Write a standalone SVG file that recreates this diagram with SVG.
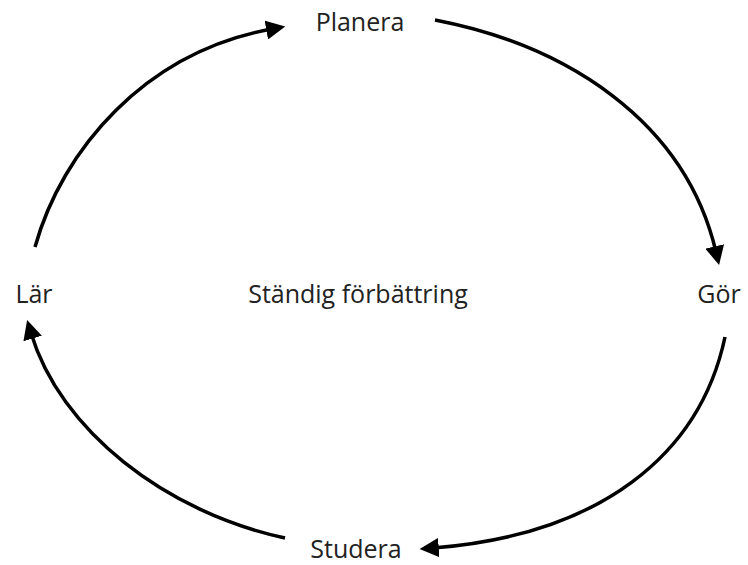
<svg xmlns="http://www.w3.org/2000/svg" width="748" height="565" viewBox="0 0 748 565">
<style>
.lbl{font-family:"Open Sans","Noto Sans",sans-serif;font-size:25px;fill:#222}
.arc{fill:none;stroke:#000;stroke-width:3.5;marker-end:url(#ah)}
</style>
<defs>
<marker id="ah" viewBox="0 0 10 10" refX="3" refY="5" markerWidth="5.5" markerHeight="5.5" orient="auto" markerUnits="strokeWidth">
<path d="M0,0 L10,5 L0,10 z" fill="#000"/>
</marker>
</defs>
<rect width="748" height="565" fill="#fff"/>
<g id="connectors">
<path class="arc" d="M35,247 C 62,150 145,52 272,29"/>
<path class="arc" d="M435,20 C 565,45 685,120 716,252"/>
<path class="arc" d="M725,337 C 700,455 600,535 433,548"/>
<path class="arc" d="M285,538 C 165,512 60,430 31,333"/>
</g>
<g id="planera"><text class="lbl" x="360" y="31" text-anchor="middle">Planera</text></g>
<g id="gor"><text class="lbl" x="719" y="303" text-anchor="middle">Gör</text></g>
<g id="studera"><text class="lbl" x="356" y="558" text-anchor="middle">Studera</text></g>
<g id="lar"><text class="lbl" x="34" y="303" text-anchor="middle">Lär</text></g>
<g id="center"><text class="lbl" x="358" y="303" text-anchor="middle">Ständig förbättring</text></g>
</svg>
